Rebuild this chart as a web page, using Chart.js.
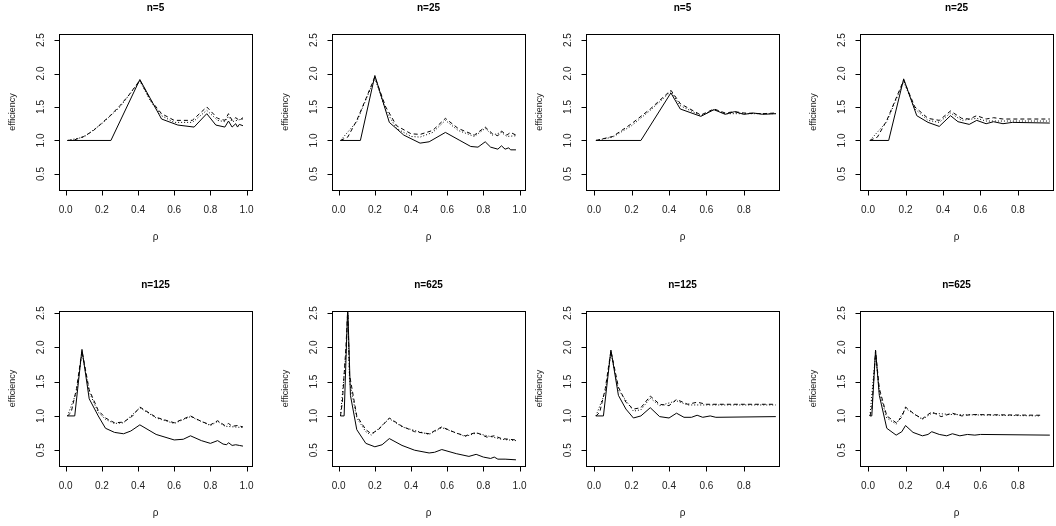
<!DOCTYPE html>
<html><head><meta charset="utf-8">
<script src="https://cdn.jsdelivr.net/npm/chart.js@4/dist/chart.umd.min.js"></script>
<style>
body{margin:0;background:#fff;width:1056px;height:526px;overflow:hidden;position:relative}
.cell{position:absolute;width:264px;height:263px}
</style></head><body>
<script>
// Panel titles
const titles = ["n=5","n=25","n=5","n=25","n=125","n=625","n=125","n=625"];
const yTicks = [0.5,1.0,1.5,2.0,2.5];
const xTicksA = [0,0.2,0.4,0.6,0.8,1.0];
const xTicksB = [0,0.2,0.4,0.6,0.8];

// series: [rho, efficiency] pairs
const p1Solid=[[0.01,1],[0.25,1],[0.41,1.91],[0.53,1.32],[0.62,1.23],[0.71,1.2],[0.78,1.4],[0.83,1.23],[0.88,1.2],[0.9,1.29],[0.92,1.2],[0.94,1.25],[0.95,1.2],[0.96,1.24],[0.98,1.22]];
const p1Dash=[[0.01,1],[0.05,1.01],[0.1,1.06],[0.15,1.14],[0.2,1.26],[0.25,1.38],[0.3,1.52],[0.35,1.68],[0.41,1.9],[0.47,1.6],[0.53,1.4],[0.6,1.3],[0.7,1.3],[0.78,1.5],[0.84,1.33],[0.88,1.3],[0.9,1.4],[0.92,1.3],[0.94,1.34],[0.96,1.3],[0.98,1.34]];
const p1Dot=[[0.01,1],[0.1,1.05],[0.2,1.25],[0.3,1.5],[0.41,1.89],[0.47,1.58],[0.53,1.37],[0.6,1.27],[0.7,1.27],[0.78,1.45],[0.84,1.3],[0.88,1.28],[0.9,1.36],[0.92,1.28],[0.96,1.31],[0.98,1.32]];

const p2Solid=[[0.01,1],[0.12,1],[0.2,1.97],[0.28,1.27],[0.36,1.08],[0.45,0.96],[0.5,0.98],[0.59,1.12],[0.67,1.0],[0.73,0.91],[0.77,0.9],[0.81,0.98],[0.84,0.9],[0.88,0.87],[0.9,0.92],[0.92,0.87],[0.94,0.89],[0.95,0.86],[0.98,0.86]];
const p2Dash=[[0.01,1],[0.05,1.05],[0.1,1.3],[0.15,1.62],[0.2,1.95],[0.26,1.5],[0.32,1.22],[0.4,1.1],[0.45,1.09],[0.52,1.15],[0.59,1.33],[0.66,1.18],[0.75,1.08],[0.81,1.2],[0.85,1.1],[0.88,1.07],[0.9,1.14],[0.93,1.08],[0.95,1.12],[0.98,1.08]];
const p2Dot=[[0.01,1],[0.1,1.28],[0.2,1.93],[0.26,1.45],[0.32,1.18],[0.4,1.06],[0.45,1.05],[0.52,1.12],[0.59,1.3],[0.66,1.15],[0.75,1.06],[0.81,1.18],[0.85,1.08],[0.9,1.12],[0.93,1.06],[0.98,1.07]];

const p3Solid=[[0.01,1],[0.25,1],[0.41,1.71],[0.46,1.47],[0.57,1.36],[0.64,1.46],[0.7,1.39],[0.75,1.43],[0.8,1.39],[0.85,1.41],[0.9,1.39],[0.97,1.4]];
const p3Dash=[[0.01,1],[0.1,1.06],[0.2,1.25],[0.3,1.47],[0.41,1.75],[0.46,1.55],[0.57,1.38],[0.64,1.47],[0.7,1.41],[0.75,1.43],[0.8,1.41],[0.9,1.4],[0.97,1.41]];
const p3Dot=[[0.01,1],[0.1,1.05],[0.2,1.22],[0.3,1.45],[0.41,1.73],[0.46,1.52],[0.57,1.37],[0.64,1.46],[0.7,1.4],[0.97,1.4]];

const p4Solid=[[0.01,1],[0.11,1],[0.19,1.92],[0.26,1.37],[0.32,1.27],[0.38,1.21],[0.44,1.37],[0.48,1.28],[0.54,1.24],[0.58,1.3],[0.63,1.25],[0.67,1.28],[0.72,1.25],[0.77,1.27],[0.97,1.26]];
const p4Dash=[[0.01,1],[0.05,1.05],[0.1,1.3],[0.19,1.9],[0.25,1.5],[0.32,1.33],[0.38,1.3],[0.44,1.44],[0.5,1.33],[0.54,1.32],[0.58,1.37],[0.63,1.32],[0.67,1.34],[0.72,1.32],[0.97,1.32]];
const p4Dot=[[0.01,1],[0.1,1.28],[0.19,1.88],[0.25,1.47],[0.32,1.3],[0.38,1.27],[0.44,1.41],[0.5,1.3],[0.58,1.33],[0.63,1.29],[0.97,1.29]];

const p5Solid=[[0.01,1],[0.05,1],[0.09,1.97],[0.13,1.25],[0.18,1.0],[0.22,0.82],[0.27,0.76],[0.32,0.74],[0.36,0.78],[0.41,0.87],[0.5,0.73],[0.6,0.65],[0.65,0.66],[0.69,0.71],[0.75,0.64],[0.8,0.6],[0.84,0.64],[0.87,0.59],[0.89,0.58],[0.9,0.61],[0.92,0.57],[0.94,0.58],[0.96,0.57],[0.98,0.56]];
const p5Dash=[[0.01,1],[0.03,1.05],[0.06,1.4],[0.09,1.95],[0.13,1.38],[0.18,1.08],[0.22,0.97],[0.27,0.9],[0.32,0.91],[0.37,1.0],[0.41,1.13],[0.5,0.98],[0.6,0.9],[0.69,1.0],[0.75,0.92],[0.8,0.87],[0.84,0.93],[0.88,0.86],[0.9,0.89],[0.92,0.85],[0.95,0.86],[0.98,0.84]];
const p5Dot=[[0.01,1],[0.06,1.35],[0.09,1.93],[0.13,1.35],[0.18,1.05],[0.22,0.95],[0.27,0.89],[0.32,0.9],[0.41,1.12],[0.5,0.97],[0.6,0.89],[0.69,0.99],[0.8,0.86],[0.84,0.92],[0.88,0.85],[0.98,0.83]];

const p6Solid=[[0.01,1],[0.03,1],[0.05,2.6],[0.065,1.3],[0.1,0.8],[0.15,0.6],[0.2,0.55],[0.24,0.58],[0.28,0.67],[0.35,0.57],[0.42,0.5],[0.5,0.46],[0.53,0.47],[0.57,0.51],[0.65,0.45],[0.72,0.41],[0.76,0.44],[0.8,0.4],[0.84,0.38],[0.86,0.4],[0.88,0.37],[0.92,0.37],[0.98,0.36]];
const p6Dash=[[0.01,1],[0.02,1.2],[0.04,2.0],[0.05,2.55],[0.06,1.6],[0.1,1.0],[0.15,0.8],[0.18,0.74],[0.22,0.8],[0.28,0.97],[0.35,0.85],[0.42,0.77],[0.5,0.74],[0.57,0.84],[0.65,0.75],[0.7,0.71],[0.76,0.76],[0.82,0.69],[0.86,0.71],[0.9,0.67],[0.98,0.65]];
const p6Dot=[[0.01,1],[0.04,1.9],[0.05,2.5],[0.06,1.5],[0.1,0.97],[0.15,0.77],[0.18,0.72],[0.28,0.96],[0.35,0.84],[0.5,0.73],[0.57,0.83],[0.7,0.7],[0.76,0.75],[0.9,0.66],[0.98,0.64]];

const p7Solid=[[0.01,1],[0.05,1],[0.09,1.96],[0.13,1.3],[0.17,1.1],[0.21,0.97],[0.25,1.0],[0.3,1.12],[0.35,0.99],[0.4,0.97],[0.44,1.04],[0.48,0.98],[0.52,0.98],[0.55,1.01],[0.58,0.98],[0.62,1.0],[0.65,0.98],[0.97,0.99]];
const p7Dash=[[0.01,1],[0.03,1.05],[0.06,1.4],[0.09,1.95],[0.13,1.42],[0.17,1.2],[0.21,1.1],[0.25,1.12],[0.3,1.29],[0.35,1.17],[0.4,1.15],[0.44,1.24],[0.5,1.17],[0.55,1.2],[0.6,1.17],[0.97,1.17]];
const p7Dot=[[0.01,1],[0.06,1.35],[0.09,1.93],[0.13,1.38],[0.21,1.07],[0.25,1.09],[0.3,1.26],[0.35,1.15],[0.44,1.22],[0.5,1.16],[0.97,1.16]];

const p8Solid=[[0.01,1],[0.02,1],[0.04,1.96],[0.06,1.3],[0.1,0.82],[0.15,0.72],[0.18,0.77],[0.2,0.86],[0.24,0.76],[0.29,0.71],[0.32,0.73],[0.34,0.77],[0.38,0.73],[0.42,0.71],[0.45,0.74],[0.49,0.71],[0.53,0.73],[0.57,0.72],[0.6,0.73],[0.97,0.72]];
const p8Dash=[[0.01,1],[0.02,1.1],[0.04,1.95],[0.06,1.4],[0.1,1.0],[0.15,0.9],[0.18,0.98],[0.2,1.13],[0.25,1.02],[0.29,0.96],[0.34,1.06],[0.39,0.99],[0.45,1.04],[0.5,1.0],[0.55,1.02],[0.92,1.01]];
const p8Dot=[[0.01,1],[0.04,1.9],[0.06,1.35],[0.1,0.97],[0.15,0.88],[0.2,1.11],[0.29,0.95],[0.34,1.04],[0.45,1.02],[0.92,1.0]];

const series=[[p1Solid,p1Dash,p1Dot],[p2Solid,p2Dash,p2Dot],[p3Solid,p3Dash,p3Dot],[p4Solid,p4Dash,p4Dot],
              [p5Solid,p5Dash,p5Dot],[p6Solid,p6Dash,p6Dot],[p7Solid,p7Dash,p7Dot],[p8Solid,p8Dash,p8Dot]];

const FONT='"Liberation Sans", Arial, sans-serif';
const rPlugin={id:'rstyle',afterDraw(c,args,o){
  const ctx=c.ctx,a=c.chartArea,x=c.scales.x,y=c.scales.y;
  ctx.save();ctx.strokeStyle='#000';ctx.lineWidth=1;ctx.setLineDash([]);
  ctx.strokeRect(Math.round(a.left)+0.5,Math.round(a.top)+0.5,Math.round(a.right-a.left),Math.round(a.bottom-a.top));
  ctx.fillStyle='#000';
  const xt=o.xt, xb=Math.round(a.bottom)+0.5;
  ctx.beginPath();ctx.moveTo(x.getPixelForValue(xt[0]),xb);ctx.lineTo(x.getPixelForValue(xt[xt.length-1]),xb);
  xt.forEach(v=>{const px=Math.round(x.getPixelForValue(v))+0.5;ctx.moveTo(px,xb);ctx.lineTo(px,xb+5);});
  ctx.stroke();
  ctx.font='10px '+FONT;ctx.textAlign='center';ctx.textBaseline='middle';ctx.fillStyle='#222';
  xt.forEach(v=>ctx.fillText(v.toFixed(1),x.getPixelForValue(v),a.bottom+20));
  ctx.fillText('ρ',(a.left+a.right)/2,a.bottom+47);
  const yl=Math.round(a.left)+0.5;
  ctx.beginPath();ctx.moveTo(yl,y.getPixelForValue(yTicks[0]));ctx.lineTo(yl,y.getPixelForValue(yTicks[yTicks.length-1]));
  yTicks.forEach(v=>{const py=Math.round(y.getPixelForValue(v))+0.5;ctx.moveTo(yl,py);ctx.lineTo(yl-5,py);});
  ctx.stroke();
  yTicks.forEach(v=>{ctx.save();ctx.translate(a.left-18,y.getPixelForValue(v));ctx.rotate(-Math.PI/2);ctx.fillText(v.toFixed(1),0,0);ctx.restore();});
  ctx.save();ctx.translate(a.left-46,(a.top+a.bottom)/2);ctx.rotate(-Math.PI/2);ctx.font='9px '+FONT;ctx.fillText('efficiency',0,0);ctx.restore();
  ctx.fillStyle='#000';ctx.font='bold 10px '+FONT;
  ctx.fillText(o.title,(a.left+a.right)/2,o.titleY);
  ctx.restore();
}};

const colLeft=[59,68,58,68], colRight=[12,3,13,3];
for(let i=0;i<8;i++){
  const row=Math.floor(i/4),col=i%4;
  const d=document.createElement('div');d.className='cell';
  d.style.left=(col*264)+'px';d.style.top=(row*263)+'px';
  const cv=document.createElement('canvas');cv.width=264;cv.height=263;
  d.appendChild(cv);document.body.appendChild(d);
  const right=col>=2;
  const xmin=right?-0.043:-0.037, xmax=right?0.987:1.03;
  const ymin=row?0.27:0.26, ymax=row?2.53:2.59;
  const styles=[[],[4,3],[1,2]];
  new Chart(cv,{type:'line',
    data:{datasets:series[i].map((s,k)=>({data:s.map(p=>({x:p[0],y:p[1]})),borderColor:'#000',borderWidth:1,borderDash:styles[k],pointRadius:0,tension:0,fill:false}))},
    options:{responsive:false,animation:false,devicePixelRatio:1,
      layout:{padding:{left:colLeft[col],right:colRight[col],top:row?48:34,bottom:row?60:73}},
      plugins:{legend:{display:false},tooltip:{enabled:false},rstyle:{title:titles[i],titleY:row?22:8,xt:right?xTicksB:xTicksA}},
      scales:{x:{type:'linear',min:xmin,max:xmax,display:false},y:{min:ymin,max:ymax,display:false}}},
    plugins:[rPlugin]});
}
</script></body></html>
